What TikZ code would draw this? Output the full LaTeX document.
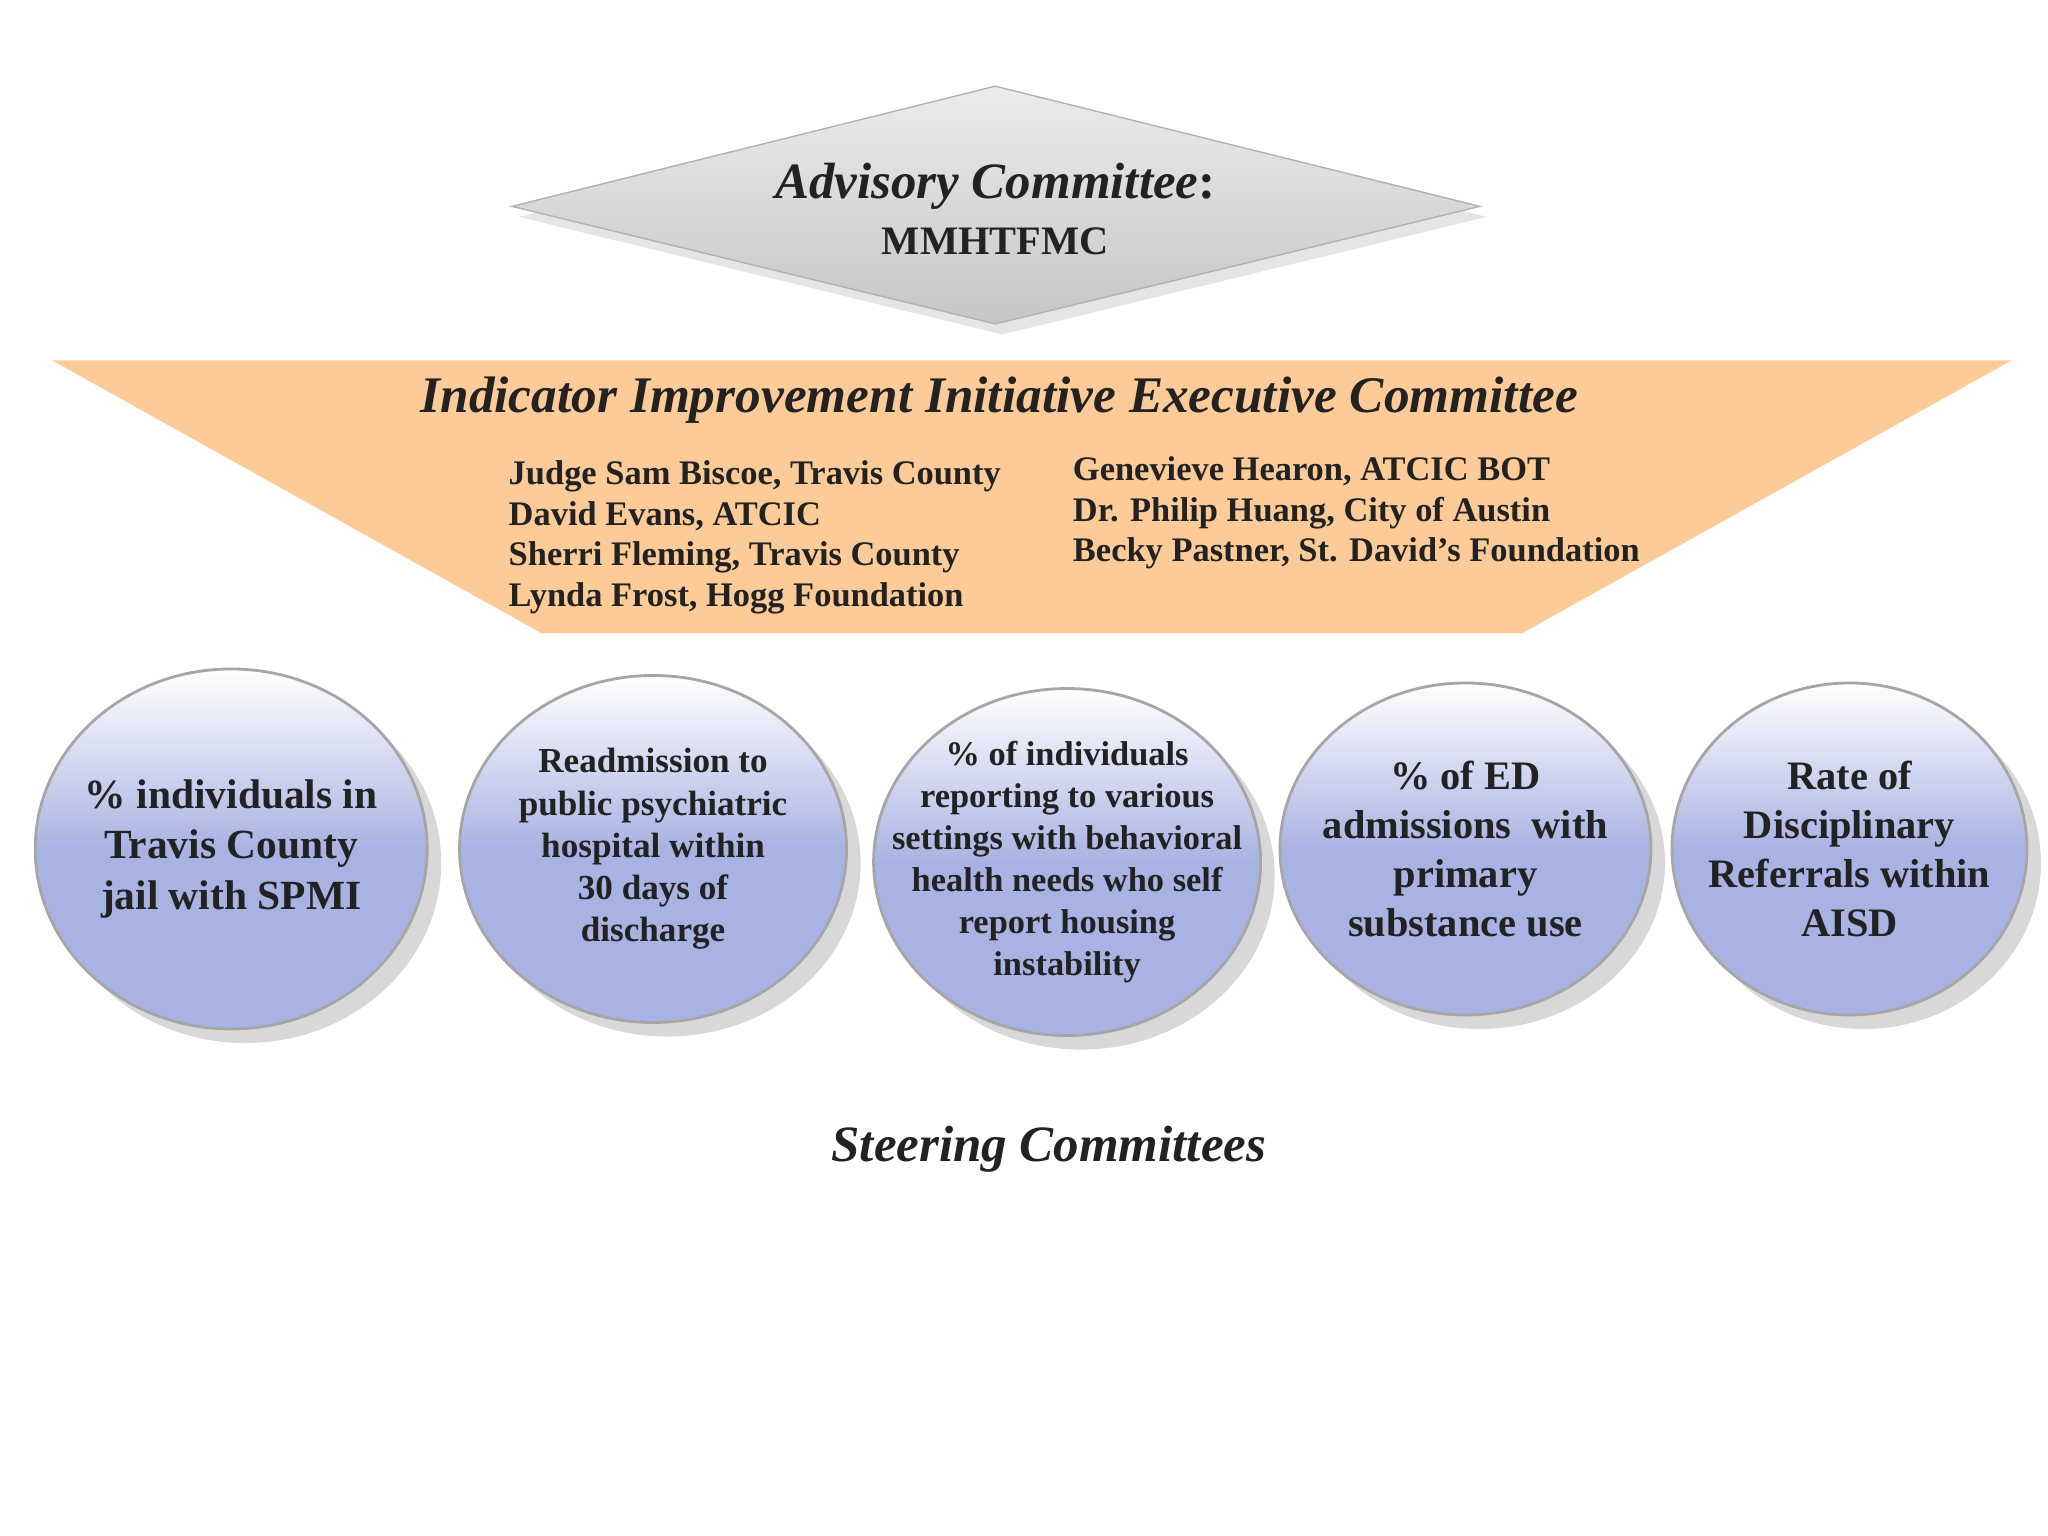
\documentclass[tikz,border=0pt]{standalone}
\usepackage{fontspec}
\setmainfont{Liberation Serif}
\usetikzlibrary{shapes.geometric,shadows}
\definecolor{lav}{HTML}{A9B3E3}
\definecolor{peach}{HTML}{FDCB98}
\definecolor{txt}{HTML}{222222}
\tikzset{
  bubble/.style={ellipse, draw=gray!70, line width=0.8pt, top color=white, bottom color=lav, middle color=lav,
    drop shadow={shadow xshift=4pt, shadow yshift=-4pt, fill=gray!60}, inner sep=0pt},
  label/.style={text=txt, align=center, font=\bfseries},
  names/.style={anchor=north west, align=left, font=\fontsize{9.8}{11.6}\selectfont\bfseries, text=txt}
}
\begin{document}
\begin{tikzpicture}[x=0.01306cm, y=-0.01306cm]
  \useasboundingbox (0,0) rectangle (1568,1176);
  % Advisory committee
  \filldraw[draw=gray!60, top color=gray!15, bottom color=gray!45,
    drop shadow={shadow xshift=2pt, shadow yshift=-3pt, fill=gray!40}]
    (392,158) -- (762,66) -- (1133,158) -- (762,248) -- cycle;
  \node[align=center, text=txt] (adv) at (762,160)
    {{\fontsize{14.5}{17}\selectfont\bfseries\itshape Advisory Committee}{\fontsize{14.5}{17}\selectfont\bfseries :}\\[4pt]
     {\fontsize{11.5}{14}\selectfont\bfseries MMHTFMC}};
  % Executive committee
  \fill[peach] (40,276) -- (1540,276) -- (1165,485) -- (415,485) -- cycle;
  \node[font=\fontsize{14.6}{18}\selectfont\bfseries\itshape, text=txt] (exec) at (765,306)
    {Indicator Improvement Initiative Executive Committee};
  \node[names] (left) at (380,343) {Judge Sam Biscoe, Travis County\\David Evans, ATCIC\\Sherri Fleming, Travis County\\Lynda Frost, Hogg Foundation};
  \node[names] (right) at (812,340) {Genevieve Hearon, ATCIC BOT\\Dr. Philip Huang, City of Austin\\Becky Pastner, St. David's Foundation};
  % Steering committees
  \node[bubble, minimum width=3.92cm, minimum height=3.6cm] (c1) at (177,650) {};
  \node[bubble, minimum width=3.87cm, minimum height=3.47cm] (c2) at (500,650) {};
  \node[bubble, minimum width=3.87cm, minimum height=3.47cm] (c3) at (817,660) {};
  \node[bubble, minimum width=3.71cm, minimum height=3.32cm] (c4) at (1122,650) {};
  \node[bubble, minimum width=3.55cm, minimum height=3.32cm] (c5) at (1416,650) {};
  \node[label, font=\fontsize{11.8}{14.3}\selectfont\bfseries] (t1) at (c1) {\% individuals in\\Travis County\\jail with SPMI};
  \node[label, font=\fontsize{10}{12}\selectfont\bfseries] (t2) at (c2) {Readmission to\\public psychiatric\\hospital within\\30 days of\\discharge};
  \node[label, font=\fontsize{9.8}{12}\selectfont\bfseries] (t3) at (c3) {\% of individuals\\reporting to various\\settings with behavioral\\health needs who self\\report housing\\instability};
  \node[label, font=\fontsize{11.5}{14}\selectfont\bfseries] (t4) at (c4) {\% of ED\\admissions \ with\\primary\\substance use};
  \node[label, font=\fontsize{11.5}{14}\selectfont\bfseries] (t5) at (c5) {Rate of\\Disciplinary\\Referrals within\\AISD};
  \node[font=\fontsize{14.5}{18}\selectfont\bfseries\itshape, text=txt] (steer) at (803,880) {Steering Committees};
\end{tikzpicture}
\end{document}
